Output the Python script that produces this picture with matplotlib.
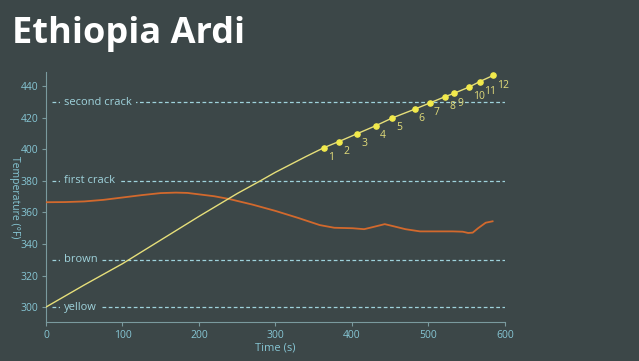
import matplotlib.pyplot as plt

# bean temperature curve (s, °F)
bean_t = [0, 50, 100, 150, 200, 250, 280, 300, 320, 340]
bean_temp = [300, 314, 327.5, 342.5, 357.5, 372, 380, 385.5, 390.5, 395.5]

# numbered samples along the roast
sample_t = [363, 383, 407, 431, 453, 482, 502, 522, 533, 553, 567, 585]
sample_temp = [401, 405, 410, 415, 420, 425.5, 429.5, 433.5, 435.5, 439.5, 443, 447]
sample_labels = [str(i) for i in range(1, 13)]

# second (orange) curve
ror_t = [0, 25, 50, 75, 100, 125, 150, 170, 185, 200, 220, 240, 270, 300, 330, 358, 377,
         401, 416, 428, 443, 455, 470, 489, 532, 545, 552, 558, 565, 575, 584]
ror_temp = [366.5, 366.6, 367, 368, 369.5, 371, 372.3, 372.6, 372.4, 371.5, 370.3, 368.5,
            365, 361, 356.5, 352, 350.3, 350, 349.4, 350.8, 352.6, 351.2, 349.4, 348,
            348, 347.8, 347, 347.2, 350, 353.5, 354.4]

# reference levels
ref_names = ['second crack', 'first crack', 'brown', 'yellow']
ref_temps = [430, 380, 330, 300]

bg = '#3c4748'
axis_col = '#7a9a9e'
tick_col = '#86c6d4'
ref_col = '#9fd3dc'

fig = plt.figure(figsize=(6.39, 3.61), dpi=100, facecolor=bg)
ax = fig.add_axes([0.072, 0.108, 0.718, 0.692], facecolor=bg)

for name, temp in zip(ref_names, ref_temps):
    ax.plot([8, 600], [temp, temp], color=ref_col, lw=0.9, ls=(0, (3, 2)), zorder=1)
    ax.text(24, temp, name, color=ref_col, fontsize=8, va='center', ha='left',
            family='Open Sans', zorder=2,
            bbox=dict(boxstyle='square,pad=0.35', fc=bg, ec='none'))

ax.plot(ror_t, ror_temp, color='#d2692d', lw=1.3, zorder=3)

line_t = bean_t + sample_t
line_temp = bean_temp + sample_temp
ax.plot(line_t, line_temp, color='#e6df7a', lw=1.0, zorder=4)
ax.scatter(sample_t, sample_temp, s=14, color='#f2ea4c', zorder=5)
for t, v, lab in zip(sample_t, sample_temp, sample_labels):
    ax.annotate(lab, (t, v), xytext=(3, -7), textcoords='offset points',
                color='#e2dc7a', fontsize=7.5, family='Open Sans', ha='left', va='center')

ax.set_xlim(0, 600)
ax.set_ylim(290.5, 449)
ax.set_xticks([0, 100, 200, 300, 400, 500, 600])
ax.set_yticks([300, 320, 340, 360, 380, 400, 420, 440])
for s in ['top', 'right']:
    ax.spines[s].set_visible(False)
for s in ['left', 'bottom']:
    ax.spines[s].set_color(axis_col)
    ax.spines[s].set_linewidth(0.8)
ax.tick_params(colors=axis_col, labelcolor=tick_col, labelsize=7.5, length=3, width=0.8, pad=2.5)
for lab in ax.get_xticklabels() + ax.get_yticklabels():
    lab.set_family('Open Sans')
ax.set_xlabel('Time (s)', color=tick_col, fontsize=8, family='Open Sans', labelpad=1)
ax.set_ylabel('Temperature (°F)', color=tick_col, fontsize=7.5, family='Open Sans',
              rotation=270, va='center', ha='center')
ax.yaxis.set_label_coords(-0.069, 0.5)

fig.text(0.018, 0.88, 'Ethiopia Ardi', color='white', fontsize=26, fontweight='bold',
         family='Open Sans', ha='left', va='baseline')

fig.savefig('out.png', dpi=100, facecolor=bg)
